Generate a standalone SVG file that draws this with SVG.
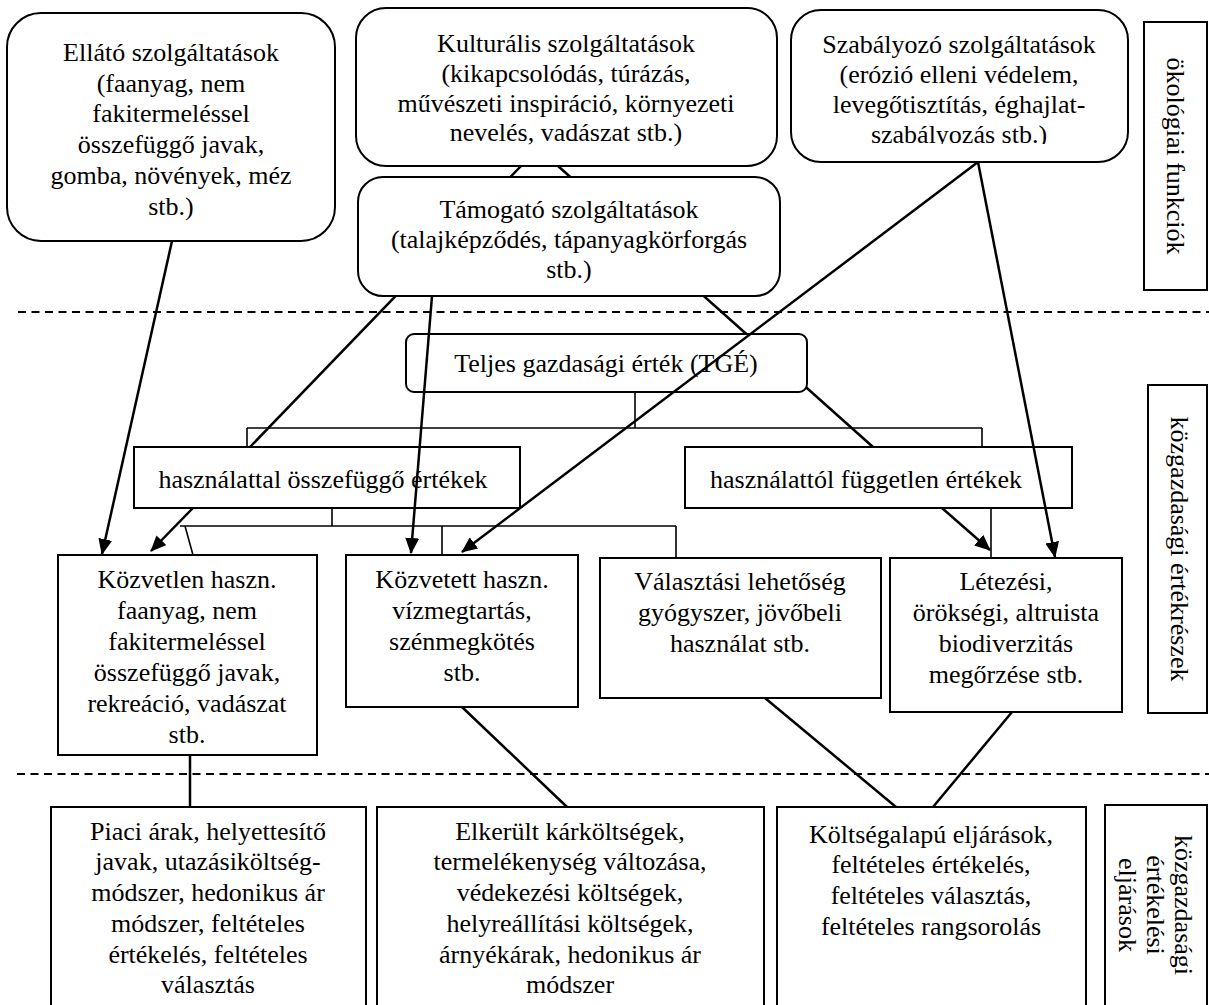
<svg xmlns="http://www.w3.org/2000/svg" width="1209" height="1005" viewBox="0 0 1209 1005">
<style>
text{font-family:"Liberation Serif","Times New Roman",serif;font-size:26px;fill:#000;text-anchor:middle}
.box{fill:#fff;stroke:#000;stroke-width:2}
.ln{fill:none;stroke:#000;stroke-width:2.5}
.br{fill:none;stroke:#000;stroke-width:1.6}
.dash{fill:none;stroke:#000;stroke-width:2;stroke-dasharray:8 5.5}
.arr{fill:none;stroke:#000;stroke-width:2.5;marker-end:url(#ah)}
</style>
<defs>
<marker id="ah" viewBox="0 0 16 14" refX="15" refY="7" markerWidth="16" markerHeight="14" markerUnits="userSpaceOnUse" orient="auto">
<path d="M0,0 L16,7 L0,14 z" fill="#000"/>
</marker>
<clipPath id="clipSzab"><rect x="791" y="10" width="337" height="134"/></clipPath>
</defs>
<rect width="1209" height="1005" fill="#fff"/>
<g id="separators">
<line class="dash" x1="18" y1="312" x2="1209" y2="312"/>
<line class="dash" x1="17" y1="774" x2="1209" y2="774"/>
</g>
<g id="connectors-under">
<line class="ln" x1="521" y1="166" x2="250" y2="447"/>
<line class="ln" x1="558" y1="166" x2="873" y2="447"/>
<path class="br" d="M635,392 V428 M247,428 H982 M247,428 V447 M982,428 V447"/>
<path class="br" d="M332,508 V526 M180,526 H676 M185,526 L193,555 M442,526 V555 M676,526 V557"/>
<path class="br" d="M991,508 V557"/>
<line class="ln" x1="190" y1="755" x2="190" y2="807"/>
<line class="ln" x1="462" y1="707" x2="567" y2="807"/>
<line class="ln" x1="765" y1="698" x2="896" y2="807"/>
<line class="ln" x1="1012" y1="712" x2="933" y2="807"/>
</g>
<g id="node-ellato">
<rect class="box" x="7" y="13" width="328" height="228" rx="34"/>
<text x="171" y="61">Ellátó szolgáltatások</text>
<text x="171" y="92">(faanyag, nem</text>
<text x="171" y="122">fakitermeléssel</text>
<text x="171" y="153">összefüggő javak,</text>
<text x="171" y="184">gomba, növények, méz</text>
<text x="171" y="215">stb.)</text>
</g>
<g id="node-kulturalis">
<rect class="box" x="356" y="8" width="421" height="158" rx="30"/>
<text x="566" y="52">Kulturális szolgáltatások</text>
<text x="566" y="82">(kikapcsolódás, túrázás,</text>
<text x="566" y="112">művészeti inspiráció, környezeti</text>
<text x="566" y="141">nevelés, vadászat stb.)</text>
</g>
<g id="node-tamogato">
<rect class="box" x="358" y="177" width="422" height="119" rx="25"/>
<text x="569" y="218">Támogató szolgáltatások</text>
<text x="569" y="248">(talajképződés, tápanyagkörforgás</text>
<text x="569" y="278">stb.)</text>
</g>
<g id="node-szabalyozo">
<rect class="box" x="791" y="10" width="337" height="152" rx="30"/>
<g clip-path="url(#clipSzab)">
<text x="959" y="53">Szabályozó szolgáltatások</text>
<text x="959" y="83">(erózió elleni védelem,</text>
<text x="959" y="113">levegőtisztítás, éghajlat-</text>
<text x="959" y="143">szabályozás stb.)</text>
</g>
</g>
<g id="label-okologiai">
<rect class="box" x="1144" y="22" width="63" height="268"/>
<text transform="translate(1167,156) rotate(90)">ökológiai funkciók</text>
</g>
<g id="node-tge">
<rect class="box" x="406" y="334" width="401" height="58" rx="8"/>
<text x="606" y="372">Teljes gazdasági érték (TGÉ)</text>
</g>
<g id="node-hasznalattal">
<rect class="box" x="134" y="447" width="386" height="61"/>
<text x="323" y="488">használattal összefüggő értékek</text>
</g>
<g id="node-hasznalattol">
<rect class="box" x="685" y="447" width="387" height="61"/>
<text x="866" y="488">használattól független értékek</text>
</g>
<g id="label-kozgazdasagi-ertekreszek">
<rect class="box" x="1148" y="385" width="59" height="328"/>
<text transform="translate(1171,549) rotate(90)">közgazdasági értékrészek</text>
</g>
<g id="node-kozvetlen">
<rect class="box" x="58" y="555" width="259" height="200"/>
<text x="187" y="588">Közvetlen haszn.</text>
<text x="187" y="619">faanyag, nem</text>
<text x="187" y="650">fakitermeléssel</text>
<text x="187" y="681">összefüggő javak,</text>
<text x="187" y="712">rekreáció, vadászat</text>
<text x="187" y="743">stb.</text>
</g>
<g id="node-kozvetett">
<rect class="box" x="346" y="555" width="232" height="152"/>
<text x="462" y="588">Közvetett haszn.</text>
<text x="462" y="619">vízmegtartás,</text>
<text x="462" y="650">szénmegkötés</text>
<text x="462" y="681">stb.</text>
</g>
<g id="node-valasztasi">
<rect class="box" x="600" y="558" width="281" height="140"/>
<text x="740" y="590">Választási lehetőség</text>
<text x="740" y="621">gyógyszer, jövőbeli</text>
<text x="740" y="652">használat stb.</text>
</g>
<g id="node-letezesi">
<rect class="box" x="890" y="558" width="232" height="154"/>
<text x="1006" y="590">Létezési,</text>
<text x="1006" y="621">örökségi, altruista</text>
<text x="1006" y="652">biodiverzitás</text>
<text x="1006" y="683">megőrzése stb.</text>
</g>
<g id="node-piaci">
<rect class="box" x="51" y="807" width="315" height="210"/>
<text x="208" y="840">Piaci árak, helyettesítő</text>
<text x="208" y="870">javak, utazásiköltség-</text>
<text x="208" y="901">módszer, hedonikus ár</text>
<text x="208" y="932">módszer, feltételes</text>
<text x="208" y="963">értékelés, feltételes</text>
<text x="208" y="993">választás</text>
</g>
<g id="node-elkerult">
<rect class="box" x="377" y="807" width="387" height="210"/>
<text x="570" y="840">Elkerült kárköltségek,</text>
<text x="570" y="870">termelékenység változása,</text>
<text x="570" y="901">védekezési költségek,</text>
<text x="570" y="932">helyreállítási költségek,</text>
<text x="570" y="963">árnyékárak, hedonikus ár</text>
<text x="570" y="993">módszer</text>
</g>
<g id="node-koltsegalapu">
<rect class="box" x="777" y="807" width="309" height="210"/>
<text x="931" y="843">Költségalapú eljárások,</text>
<text x="931" y="873">feltételes értékelés,</text>
<text x="931" y="904">feltételes választás,</text>
<text x="931" y="935">feltételes rangsorolás</text>
</g>
<g id="label-ertekelesi-eljarasok">
<rect class="box" x="1105" y="805" width="102" height="212"/>
<text transform="translate(1175,905) rotate(90)">közgazdasági</text>
<text transform="translate(1147,905) rotate(90)">értékelési</text>
<text transform="translate(1119,905) rotate(90)">eljárások</text>
</g>
<g id="connectors-over">
<line class="arr" x1="172" y1="241" x2="102" y2="554"/>
<line class="arr" x1="193" y1="508" x2="151" y2="551"/>
<line class="arr" x1="432" y1="296" x2="411" y2="553"/>
<line class="arr" x1="978" y1="162" x2="462" y2="552"/>
<line class="arr" x1="978" y1="162" x2="1055" y2="557"/>
<line class="arr" x1="942" y1="508" x2="990" y2="550"/>
</g>
</svg>
